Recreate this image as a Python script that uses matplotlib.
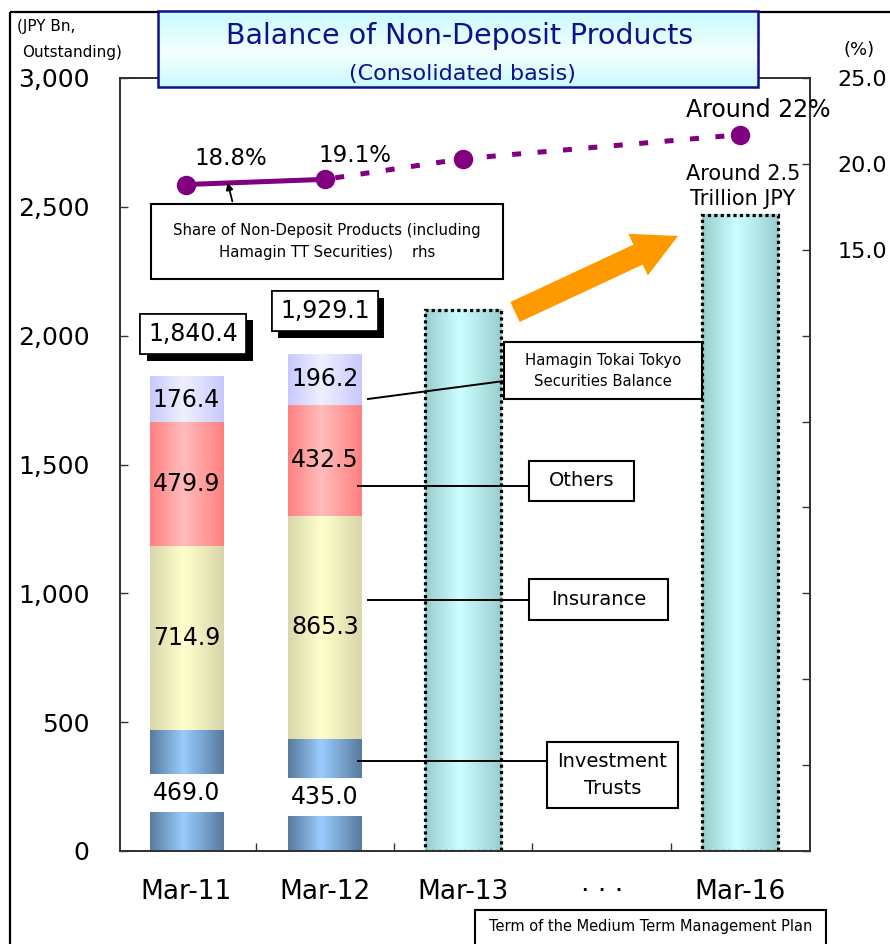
import numpy as np
import matplotlib
matplotlib.use("Agg")
import matplotlib.pyplot as plt
import matplotlib.patheffects as pe
from matplotlib.colors import LinearSegmentedColormap
from matplotlib.patches import Rectangle, FancyArrow
from matplotlib.ticker import FixedLocator, FuncFormatter

plt.rcParams["font.family"] = ["DejaVu Sans"]

# balances, JPY bn
periods = ["Mar-11", "Mar-12", "Mar-13", "· · ·", "Mar-16"]
actual_pos = [0, 1]
trusts = [469.0, 435.0]
insurance = [714.9, 865.3]
others = [479.9, 432.5]
htts = [176.4, 196.2]
totals = [1840.4, 1929.1]
plan_pos = [2, 4]
plan_bal = [2100, 2470]

# share of non-deposit products, % (rhs)
share_pos = [0, 1, 2, 4]
share = [18.8, 19.1, 20.3, 21.7]
share_labels = ["18.8%", "19.1%"]

purple = "#800080"
navy = "#10108a"
axis_col = "#333333"

fig = plt.figure(figsize=(8.9, 9.44), dpi=100)
ax = fig.add_axes([120 / 890, 1 - 851 / 944, 690 / 890, 773 / 944])


def gradient_cmap(edge, mid):
    return LinearSegmentedColormap.from_list("g", [(0, edge), (0.45, mid), (1, edge)])


def shade(axis, rects, cmap, z=2):
    grad = np.linspace(0, 1, 256).reshape(1, -1)
    for r in rects:
        x, y, w, h = r.get_x(), r.get_y(), r.get_width(), r.get_height()
        axis.imshow(grad, cmap=cmap, extent=[x, x + w, y, y + h],
                    aspect="auto", interpolation="bicubic", zorder=z)


width = 0.53
layers = [
    (trusts, "#587a9c", "#99ccff"),
    (insurance, "#d8d6aa", "#ffffcc"),
    (others, "#ff8080", "#ffbcbc"),
    (htts, "#c8c8ff", "#f0f0ff"),
]
bottom = np.zeros(len(actual_pos))
for vals, edge, mid in layers:
    bars = ax.bar(actual_pos, vals, width, bottom=bottom, color="none", edgecolor="none")
    shade(ax, bars.patches, gradient_cmap(edge, mid))
    for x, b, v in zip(actual_pos, bottom, vals):
        if vals is trusts:
            ax.text(x, b + v * 0.48, f"{v:.1f}", ha="center", va="center", fontsize=17,
                    zorder=5, bbox=dict(boxstyle="square,pad=0.3", fc="white", ec="none"))
        else:
            ax.text(x, b + v / 2, f"{v:.1f}", ha="center", va="center", fontsize=17, zorder=5)
    bottom = bottom + np.array(vals)

# plan bars with dotted outline
plan = ax.bar(plan_pos, plan_bal, width + 0.02, color="none", edgecolor="black",
              linewidth=2.3, linestyle=(0, (1, 1)), zorder=4)
shade(ax, plan.patches, gradient_cmap("#99cccc", "#ccffff"))

# totals in boxes with a drop shadow
for x, t, dx in zip(actual_pos, totals, [0.05, 0.0]):
    lab = ax.text(x + dx, t + 165, f"{t:,.1f}", ha="center", va="center", fontsize=17,
                  zorder=6, bbox=dict(boxstyle="square,pad=0.34", fc="white", ec="black", lw=1.2))
    lab.get_bbox_patch().set_path_effects(
        [pe.withSimplePatchShadow(offset=(4.5, -4.5), shadow_rgbFace="black", alpha=1.0),
         pe.Normal()])

ax.set_xlim(-0.48, 4.505)
ax.set_ylim(0, 3000)
ax.set_yticks(np.arange(0, 3001, 500))
ax.yaxis.set_major_formatter(FuncFormatter(lambda v, p: f"{v:,.0f}"))
ax.tick_params(axis="y", direction="in", length=6, width=1, colors=axis_col,
               labelcolor="black", labelsize=18, pad=22)
ax.set_xticks(range(len(periods)))
ax.set_xticklabels(periods)
ax.xaxis.set_minor_locator(FixedLocator([0.5, 1.5, 2.5, 3.5]))
ax.tick_params(axis="x", which="major", length=0, labelsize=19, pad=20)
ax.tick_params(axis="x", which="minor", direction="in", length=6, width=1, colors=axis_col)
for s in ax.spines.values():
    s.set_color(axis_col)
    s.set_linewidth(1.3)

# share line on the right scale
ax2 = ax.twinx()
ax2.set_ylim(-20, 25)
ax2.set_yticks(np.arange(-20, 26, 5))
ax2.yaxis.set_major_formatter(FuncFormatter(lambda v, p: f"{v:.1f}" if v >= 15 else ""))
ax2.tick_params(axis="y", direction="in", length=6, width=1, colors=axis_col,
                labelcolor="black", labelsize=16, pad=20)
for s in ax2.spines.values():
    s.set_color(axis_col)
    s.set_linewidth(1.3)
ax2.plot(share_pos[:2], share[:2], color=purple, lw=3.6, solid_capstyle="butt", zorder=3)
ax2.plot(share_pos[1:], share[1:], color=purple, lw=3.6, linestyle=(3, (1.8, 3.3)),
         dash_capstyle="butt", zorder=3)
ax2.plot(share_pos, share, "o", color=purple, ms=13, zorder=4)
for x, v, lab, off in zip(share_pos, share, share_labels, [(32, 19), (22, 17)]):
    ax2.annotate(lab, (x, v), xytext=off, textcoords="offset points",
                 ha="center", va="center", fontsize=16.5)
ax2.annotate("Around 22%", (share_pos[-1], share[-1]), xytext=(13, 18),
             textcoords="offset points", ha="center", va="center", fontsize=17)
ax.annotate("Around 2.5\nTrillion JPY", (plan_pos[-1], plan_bal[-1]), xytext=(2, 4),
            textcoords="offset points", ha="center", va="bottom", fontsize=15,
            linespacing=1.3)

# overlay in pixel units for the title, callouts and frame
ov = fig.add_axes([0, 0, 1, 1])
ov.axis("off")
ov.patch.set_alpha(0)

ov.add_patch(Rectangle((9.5, 12), 900, 950, fill=False, ec="black", lw=1.6))

vgrad = np.linspace(0, 1, 128).reshape(-1, 1)
title_cmap = LinearSegmentedColormap.from_list(
    "t", [(0, "#c8fafd"), (0.55, "#f4fffe"), (1, "#c8fafd")])
ov.imshow(vgrad, cmap=title_cmap, extent=[158, 758, 87, 11], aspect="auto", zorder=1)
ov.add_patch(Rectangle((158, 11), 600, 76, fill=False, ec=navy, lw=1.8, zorder=2))
ov.text(460, 36, "Balance of Non-Deposit Products", ha="center", va="center",
        fontsize=20.5, color=navy, zorder=3)
ov.text(462, 74, "(Consolidated basis)", ha="center", va="center",
        fontsize=16, color=navy, zorder=3)
ov.set_xlim(0, 890)
ov.set_ylim(944, 0)

ov.text(17, 27, "(JPY Bn,", ha="left", va="center", fontsize=11)
ov.text(22, 53, "Outstanding)", ha="left", va="center", fontsize=11)
ov.text(859, 50, "(%)", ha="center", va="center", fontsize=13)


def callout(x0, y0, x1, y1, text, size, tx=None, ty=None):
    ov.add_patch(Rectangle((x0, y0), x1 - x0, y1 - y0, fc="white", ec="black", lw=1.5, zorder=4))
    ov.text((x0 + x1) / 2 if tx is None else tx, (y0 + y1) / 2 if ty is None else ty, text,
            ha="center", va="center", fontsize=size, linespacing=1.5, zorder=5)


ov.annotate("", xy=(227, 180), xytext=(233, 204),
            arrowprops=dict(arrowstyle="-|>", color="black", lw=1.3, mutation_scale=10))
callout(151, 204, 503, 279,
        "Share of Non-Deposit Products (including\nHamagin TT Securities)    rhs", 10.7)

ov.plot([368, 504], [399, 381], color="black", lw=1.4, zorder=3)
callout(504, 342, 702, 399, "Hamagin Tokai Tokyo\nSecurities Balance", 10.7)

ov.plot([358, 529], [486, 486], color="black", lw=1.4, zorder=3)
callout(529, 461, 634, 501, "Others", 14)

ov.plot([368, 529], [600, 600], color="black", lw=1.4, zorder=3)
callout(529, 579, 668, 620, "Insurance", 14)

ov.plot([358, 547], [761, 761], color="black", lw=1.4, zorder=3)
callout(547, 742, 678, 808, "Investment\nTrusts", 14)

callout(475, 910, 826, 960, "Term of the Medium Term Management Plan", 10.5, ty=927)

ov.add_patch(FancyArrow(515, 312, 163, -76, width=22, head_width=46, head_length=44,
                        length_includes_head=True, color="#ff9900", ec="none", zorder=3))

fig.savefig("out.png", dpi=100)
